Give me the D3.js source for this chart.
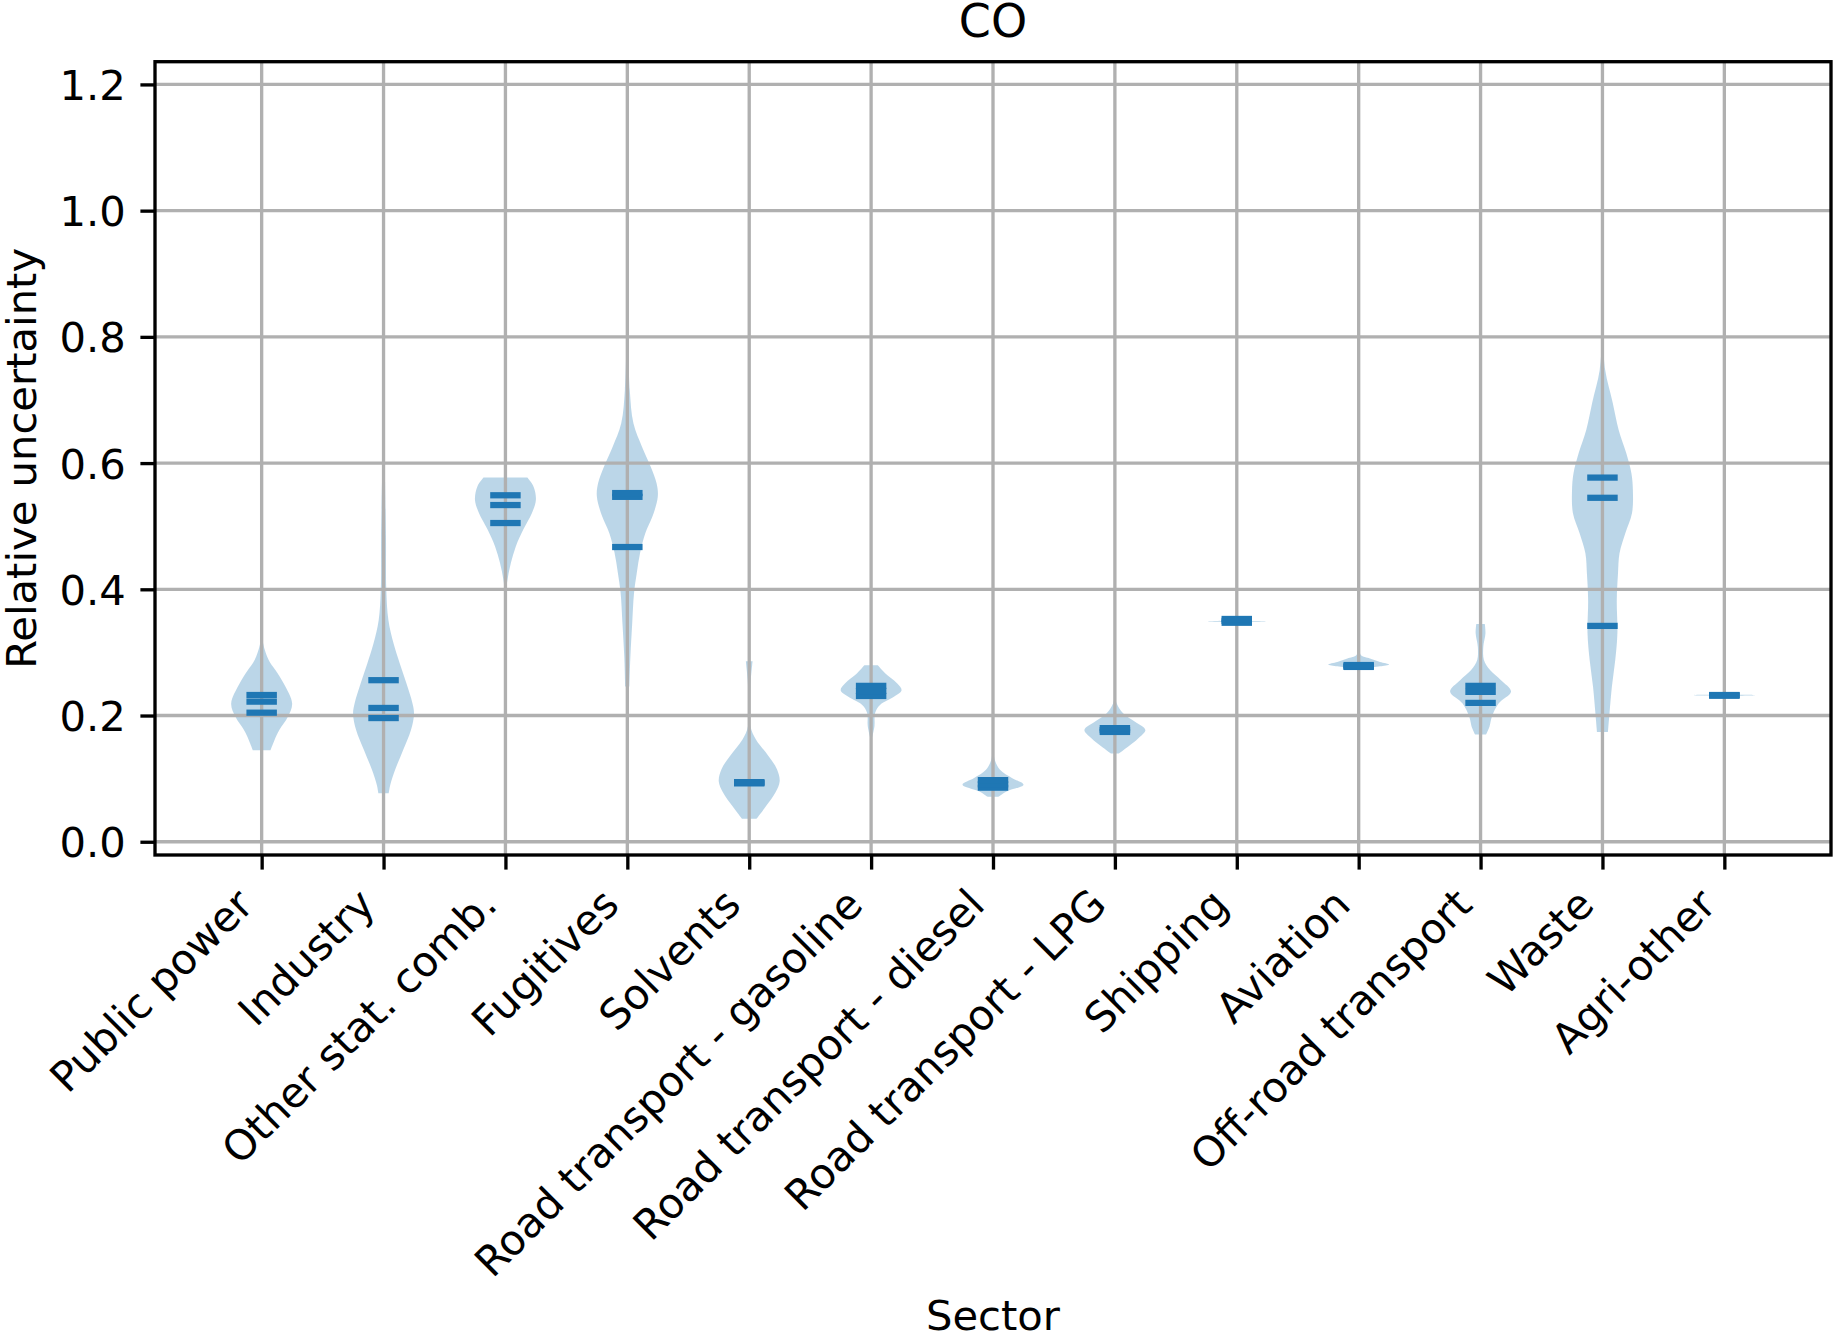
<!DOCTYPE html>
<html>
<head>
<meta charset="utf-8">
<script src="https://cdn.jsdelivr.net/npm/d3@7"></script>
<style>
    body { margin: 0; background: #fff; }
    text { font-family: "DejaVu Sans", sans-serif; fill: #000; }
</style>
</head>
<body>
<div id="chart"></div>
<script>
"use strict";

// sector names, in plot order
var sectors = ["Public power", "Industry", "Other stat. comb.", "Fugitives", "Solvents",
    "Road transport - gasoline", "Road transport - diesel", "Road transport - LPG",
    "Shipping", "Aviation", "Off-road transport", "Waste", "Agri-other"];

// violin outlines: [relative uncertainty, width relative to widest point]
var publicPower = [[0.145,0.29],[0.161,0.42],[0.177,0.58],[0.198,0.86],[0.219,1.0],[0.251,0.72],[0.272,0.45],[0.288,0.23],[0.314,0.05],[0.34,0.02],[0.375,0.01]];
var industry = [[0.077,0.17],[0.090,0.22],[0.114,0.38],[0.145,0.64],[0.177,0.9],[0.203,1.0],[0.219,0.95],[0.251,0.75],[0.283,0.53],[0.314,0.33],[0.351,0.16],[0.40,0.09],[0.483,0.08],[0.57,0.05]];
var otherStat = [[0.28,0.01],[0.394,0.02],[0.416,0.07],[0.442,0.18],[0.468,0.34],[0.495,0.59],[0.521,0.87],[0.542,1.0],[0.563,0.92],[0.577,0.72]];
var fugitives = [[0.246,0.07],[0.293,0.1],[0.346,0.16],[0.394,0.22],[0.426,0.31],[0.458,0.42],[0.489,0.59],[0.516,0.83],[0.547,1.0],[0.568,0.96],[0.595,0.76],[0.626,0.48],[0.663,0.2],[0.716,0.08],[0.770,0.04]];
var solvents = [[0.0365,0.24],[0.057,0.56],[0.078,0.86],[0.096,1.0],[0.115,0.91],[0.136,0.63],[0.162,0.22],[0.183,0.04],[0.230,0.03],[0.256,0.05],[0.286,0.11]];
var gasoline = [[0.161,0.01],[0.183,0.11],[0.204,0.13],[0.217,0.3],[0.230,0.76],[0.240,1.0],[0.251,0.85],[0.267,0.46],[0.2795,0.22]];
var diesel = [[0.0713,0.18],[0.080,0.46],[0.0905,1.0],[0.101,0.62],[0.114,0.23],[0.1295,0.06],[0.1506,0.01]];
var lpg = [[0.140,0.13],[0.151,0.44],[0.164,0.77],[0.177,1.0],[0.190,0.66],[0.2035,0.27],[0.219,0.06],[0.235,0.01]];
var shipping = [[0.3445,0.0],[0.3475,0.2],[0.3485,0.8],[0.349,1.0],[0.3495,0.8],[0.3505,0.2],[0.3535,0.0]];
var aviation = [[0.2755,0.3],[0.278,0.7],[0.281,1.0],[0.285,0.7],[0.2905,0.37],[0.296,0.07],[0.309,0.02],[0.333,0.01]];
var offRoad = [[0.170,0.18],[0.182,0.29],[0.198,0.37],[0.219,0.59],[0.238,1.0],[0.256,0.67],[0.272,0.31],[0.288,0.11],[0.309,0.09],[0.330,0.16],[0.345,0.14]];
var waste = [[0.174,0.18],[0.203,0.23],[0.246,0.31],[0.288,0.42],[0.330,0.49],[0.383,0.47],[0.425,0.51],[0.457,0.56],[0.489,0.75],[0.521,0.97],[0.555,1.0],[0.584,0.95],[0.616,0.78],[0.653,0.53],[0.695,0.34],[0.7475,0.09],[0.800,0.01]];
var agriOther = [[0.2285,0.0],[0.2308,0.2],[0.2318,0.8],[0.2323,1.0],[0.2328,0.8],[0.2338,0.2],[0.2365,0.0]];

var profiles = [publicPower, industry, otherStat, fugitives, solvents, gasoline, diesel,
    lpg, shipping, aviation, offRoad, waste, agriOther];

// horizontal marker lines (quantiles) per sector
var quantileLines = [
    [0.2045, 0.222, 0.2325],
    [0.196, 0.212, 0.256],
    [0.505, 0.5335, 0.549],
    [0.467, 0.5465, 0.5525],
    [0.0925, 0.0935, 0.0945],
    [0.231, 0.239, 0.247],
    [0.0857, 0.091, 0.0976],
    [0.174, 0.177, 0.180],
    [0.347, 0.350, 0.353],
    [0.277, 0.278, 0.280],
    [0.220, 0.2375, 0.247],
    [0.342, 0.545, 0.577],
    [0.2315, 0.232, 0.2325]
];

var yTicks = [0.0, 0.2, 0.4, 0.6, 0.8, 1.0, 1.2];

var width = 1834, height = 1336,
    margin = {left: 155, right: 3, top: 61.7, bottom: 481},
    fontSize = 41.7, //10pt at 300 dpi
    lw = 3.33, //0.8pt
    tickLen = 14.6,
    blue = "#1f77b4",
    halfWidth = 0.25; //violin widths 0.5

var svg = d3.select("#chart").append("svg")
    .attr("width", width)
    .attr("height", height)
    .style("background", "#fff");

var x = d3.scaleLinear()
    .domain([0.125, sectors.length + 0.875])
    .range([margin.left, width - margin.right]);

var y = d3.scaleLinear()
    .domain([-0.021, 1.236])
    .range([height - margin.bottom, margin.top]);

var positions = sectors.map(function(d, i) {return i + 1; });

// layers: bodies, then grid, then quantile lines
var bodies = svg.append("g").attr("class", "bodies"),
    grid = svg.append("g").attr("stroke", "#b0b0b0").attr("stroke-width", lw),
    marks = svg.append("g").attr("class", "marks");

positions.forEach(function(p, i) {
    var area = d3.area()
        .y(function(d) {return y(d[0]); })
        .x0(function(d) {return x(p - halfWidth * d[1]); })
        .x1(function(d) {return x(p + halfWidth * d[1]); })
        .curve(d3.curveCatmullRom.alpha(0.5));

    bodies.append("path")
        .datum(profiles[i])
        .attr("d", area)
        .attr("fill", blue)
        .attr("fill-opacity", 0.3);

    marks.append("g").selectAll("line")
        .data(quantileLines[i])
        .enter().append("line")
        .attr("x1", x(p - halfWidth / 2))
        .attr("x2", x(p + halfWidth / 2))
        .attr("y1", function(d) {return y(d); })
        .attr("y2", function(d) {return y(d); })
        .attr("stroke", blue)
        .attr("stroke-width", 6.25);
});

grid.selectAll("line.h")
    .data(yTicks)
    .enter().append("line")
    .attr("class", "h")
    .attr("x1", x.range()[0]).attr("x2", x.range()[1])
    .attr("y1", function(d) {return y(d); })
    .attr("y2", function(d) {return y(d); });
grid.selectAll("line.v")
    .data(positions)
    .enter().append("line")
    .attr("class", "v")
    .attr("y1", y.range()[0]).attr("y2", y.range()[1])
    .attr("x1", function(d) {return x(d); })
    .attr("x2", function(d) {return x(d); });

// axes
var yAxis = d3.axisLeft(y)
    .tickValues(yTicks)
    .tickFormat(d3.format(".1f"))
    .tickSizeInner(tickLen)
    .tickSizeOuter(0)
    .tickPadding(14.6);

var xAxis = d3.axisBottom(x)
    .tickValues(positions)
    .tickFormat(function(d) {return sectors[d - 1]; })
    .tickSizeInner(tickLen)
    .tickSizeOuter(0);

var gy = svg.append("g")
    .attr("transform", "translate(" + margin.left + ",0)")
    .call(yAxis);
gy.select(".domain").remove();
gy.selectAll(".tick line").attr("stroke", "#000").attr("stroke-width", lw);
gy.selectAll(".tick text")
    .style("font-size", fontSize + "px")
    .style("font-family", "DejaVu Sans")
    .attr("dy", "0.36em");

var gx = svg.append("g")
    .attr("transform", "translate(0," + y.range()[0] + ")")
    .call(xAxis);
gx.select(".domain").remove();
gx.selectAll(".tick line").attr("stroke", "#000").attr("stroke-width", lw);
gx.selectAll(".tick text")
    .style("font-size", fontSize + "px")
    .style("font-family", "DejaVu Sans")
    .attr("text-anchor", "end")
    .attr("dy", null)
    .attr("y", null)
    .attr("transform", "translate(-6.8,52) rotate(-45)");

// frame
svg.append("rect")
    .attr("x", x.range()[0])
    .attr("y", y.range()[1])
    .attr("width", x.range()[1] - x.range()[0])
    .attr("height", y.range()[0] - y.range()[1])
    .attr("fill", "none")
    .attr("stroke", "#000")
    .attr("stroke-width", lw);

// labels
svg.append("text")
    .attr("x", (x.range()[0] + x.range()[1]) / 2)
    .attr("y", 37)
    .attr("text-anchor", "middle")
    .style("font-size", "46px")
    .text("CO");

svg.append("text")
    .attr("x", (x.range()[0] + x.range()[1]) / 2)
    .attr("y", 1330)
    .attr("text-anchor", "middle")
    .style("font-size", fontSize + "px")
    .text("Sector");

svg.append("text")
    .attr("transform", "translate(36," + (y.range()[0] + y.range()[1]) / 2 + ") rotate(-90)")
    .attr("text-anchor", "middle")
    .style("font-size", fontSize + "px")
    .text("Relative uncertainty");
</script>
</body>
</html>
